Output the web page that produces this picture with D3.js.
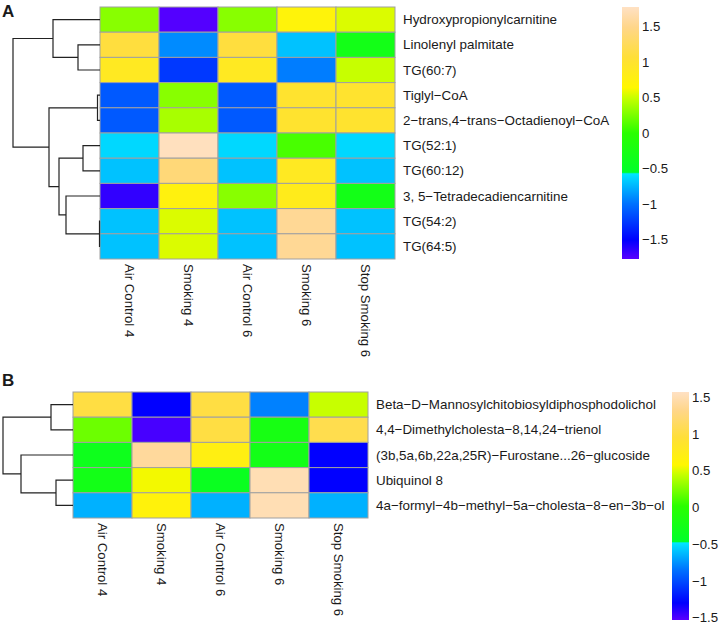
<!DOCTYPE html>
<html>
<head>
<meta charset="utf-8">
<script src="https://cdn.jsdelivr.net/npm/d3@7"></script>
<style>
  body { margin: 0; background: #fff; }
  text { font-family: "Liberation Sans", Arial, sans-serif; fill: #1a1a1a; }
</style>
</head>
<body>
<svg id="chart" width="722" height="625"></svg>
<script>
const columns = ['Air Control 4', 'Smoking 4', 'Air Control 6', 'Smoking 6', 'Stop Smoking 6'];

const rowsA = ['Hydroxypropionylcarnitine', 'Linolenyl palmitate', 'TG(60:7)', 'Tiglyl\u2212CoA',
  '2\u2212trans,4\u2212trans\u2212Octadienoyl\u2212CoA', 'TG(52:1)', 'TG(60:12)',
  '3, 5\u2212Tetradecadiencarnitine', 'TG(54:2)', 'TG(64:5)'];
const valuesA = [
  [0.3, -1.75, 0.3, 0.72, 0.55],
  [1.1, -0.9, 1.1, -0.7, -0.3],
  [0.9, -1.25, 0.9, -0.95, 0.5],
  [-1.1, 0.3, -1.1, 1.0, 1.0],
  [-1.1, 0.4, -1.1, 1.0, 1.0],
  [-0.62, 1.75, -0.62, 0.1, -0.62],
  [-0.7, 1.4, -0.7, 0.9, -0.7],
  [-1.65, 0.75, 0.3, 0.85, -0.3],
  [-0.7, 0.55, -0.7, 1.55, -0.7],
  [-0.7, 0.55, -0.7, 1.55, -0.7],
];
// row dendrogram: merge heights, leaves are row indices
const treeA = { h: 8.7, children: [
  { h: 4.7, children: [{ leaf: 0 }, { h: 2.2, children: [{ leaf: 1 }, { leaf: 2 }] }] },
  { h: 5.1, children: [
    { h: 0.25, children: [{ leaf: 3 }, { leaf: 4 }] },
    { h: 4.1, children: [
      { h: 1.7, children: [{ leaf: 5 }, { leaf: 6 }] },
      { h: 3.4, children: [{ leaf: 7 }, { h: 0.05, children: [{ leaf: 8 }, { leaf: 9 }] }] },
    ] },
  ] },
] };
const legendRangeA = [-1.77, 1.78];

const rowsB = ['Beta\u2212D\u2212Mannosylchitobiosyldiphosphodolichol', '4,4\u2212Dimethylcholesta\u22128,14,24\u2212trienol',
  '(3b,5a,6b,22a,25R)\u2212Furostane...26\u2212glucoside', 'Ubiquinol 8',
  '4a\u2212formyl\u22124b\u2212methyl\u22125a\u2212cholesta\u22128\u2212en\u22123b\u2212ol'];
const valuesB = [
  [1.0, -1.3, 1.0, -0.8, 0.45],
  [0.2, -1.48, 1.0, -0.2, 1.05],
  [-0.3, 1.4, 0.7, -0.25, -1.3],
  [-0.25, 0.55, -0.35, 1.5, -1.3],
  [-0.65, 0.65, -0.65, 1.5, -0.65],
];
const treeB = { h: 7.0, children: [
  { h: 2.2, children: [{ leaf: 0 }, { leaf: 1 }] },
  { h: 5.2, children: [{ leaf: 2 }, { h: 1.7, children: [{ leaf: 3 }, { leaf: 4 }] }] },
] };
const legendRangeB = [-1.53, 1.57];

const legendTicks = [-1.5, -1, -0.5, 0, 0.5, 1, 1.5];

// palette positions (fraction of the legend range) and colours
const paletteStops = [0, 0.075, 0.22, 0.338, 0.344, 0.5, 0.64, 0.68, 0.8, 0.92, 1];
const paletteColors = ['#5a00ff', '#0000ff', '#0072ff', '#00e6ff', '#00ff2a', '#2aff00',
  '#c8ff00', '#fff700', '#ffdf38', '#ffd68a', '#ffe1c4'];

const svg = d3.select('#chart');

const drawPanel = (cfg) => {
  const { rows, values, tree, range, letter } = cfg;
  const g = svg.append('g');

  const x = d3.scaleBand().domain(d3.range(columns.length))
    .range([cfg.left, cfg.left + 59 * columns.length]);
  const y = d3.scaleBand().domain(d3.range(rows.length))
    .range([cfg.top, cfg.top + 25.2 * rows.length]);

  const color = d3.scaleLinear()
    .domain(paletteStops.map((t) => range[0] + t * (range[1] - range[0])))
    .range(paletteColors)
    .clamp(true);

  // cells
  const cells = values.flatMap((r, i) => r.map((v, j) => ({ i, j, v })));
  g.selectAll('rect.cell')
    .data(cells)
    .enter()
    .append('rect')
    .attr('class', 'cell')
    .attr('x', (d) => x(d.j))
    .attr('y', (d) => y(d.i))
    .attr('width', x.bandwidth())
    .attr('height', y.bandwidth())
    .attr('fill', (d) => color(d.v))
    .attr('stroke', '#a0a0a0')
    .attr('stroke-width', 1);

  // row labels
  g.selectAll('text.row')
    .data(rows)
    .enter()
    .append('text')
    .attr('x', x.range()[1] + 8)
    .attr('y', (d, i) => y(i) + y.bandwidth() / 2)
    .attr('dy', '0.35em')
    .attr('font-size', 13.4)
    .text((d) => d);

  // column labels
  g.selectAll('text.col')
    .data(columns)
    .enter()
    .append('text')
    .attr('transform', (d, j) => `translate(${x(j) + x.bandwidth() / 2},${y.range()[1] + 5}) rotate(90)`)
    .attr('dy', '0.35em')
    .attr('font-size', 13.2)
    .text((d) => d);

  // dendrogram
  const root = d3.hierarchy(tree);
  const hx = d3.scaleLinear().domain([0, 10]).range([cfg.left, cfg.left - 100]);
  root.eachAfter((n) => {
    if (n.children) {
      n.px = hx(n.data.h);
      n.py = d3.mean(n.children, (c) => c.py);
    } else {
      n.px = cfg.left;
      n.py = y(n.data.leaf) + y.bandwidth() / 2;
    }
  });
  g.selectAll('path.link')
    .data(root.descendants().filter((n) => n.children))
    .enter()
    .append('path')
    .attr('d', (n) => {
      const [a, b] = n.children;
      return `M${a.px},${a.py}H${n.px}V${b.py}H${b.px}`;
    })
    .attr('fill', 'none')
    .attr('stroke', '#222')
    .attr('stroke-width', 1.2);

  // legend
  const gradId = `grad${letter}`;
  const grad = svg.append('defs').append('linearGradient')
    .attr('id', gradId)
    .attr('x1', 0).attr('y1', 1).attr('x2', 0).attr('y2', 0);
  grad.selectAll('stop')
    .data(paletteStops)
    .enter()
    .append('stop')
    .attr('offset', (d) => d)
    .attr('stop-color', (d, i) => paletteColors[i]);

  const ly = d3.scaleLinear().domain(range).range([cfg.legendBottom, cfg.legendTop]);
  g.append('rect')
    .attr('x', cfg.legendX)
    .attr('y', cfg.legendTop)
    .attr('width', 17)
    .attr('height', cfg.legendBottom - cfg.legendTop)
    .attr('fill', `url(#${gradId})`);
  g.selectAll('text.tick')
    .data(legendTicks)
    .enter()
    .append('text')
    .attr('x', cfg.legendX + 20)
    .attr('y', (d) => ly(d))
    .attr('dy', '0.35em')
    .attr('font-size', 13.2)
    .text((d) => String(d).replace('-', '\u2212'));

  g.append('text')
    .attr('x', 2)
    .attr('y', cfg.letterY)
    .attr('font-size', 17)
    .attr('font-weight', 'bold')
    .text(letter);
};

drawPanel({
  rows: rowsA, values: valuesA, tree: treeA, range: legendRangeA, letter: 'A',
  left: 100, top: 7, legendX: 622, legendTop: 7, legendBottom: 259, letterY: 17,
});
drawPanel({
  rows: rowsB, values: valuesB, tree: treeB, range: legendRangeB, letter: 'B',
  left: 73, top: 392, legendX: 672, legendTop: 392, legendBottom: 620, letterY: 386,
});
</script>
</body>
</html>
